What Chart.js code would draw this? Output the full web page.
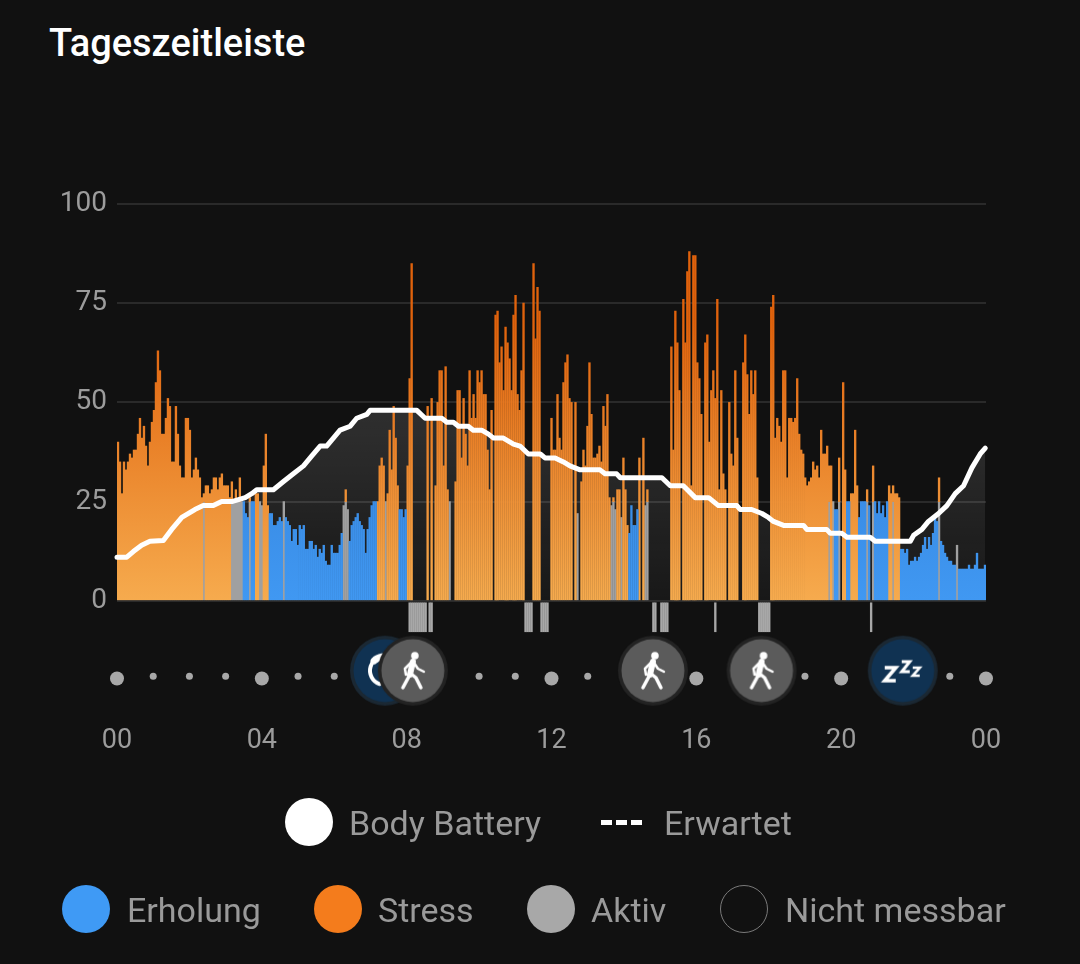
<!DOCTYPE html>
<html lang="de">
<head>
<meta charset="utf-8">
<title>Tageszeitleiste</title>
<script src="https://cdn.jsdelivr.net/npm/chart.js@4/dist/chart.umd.min.js"></script>
<style>
  html, body { margin: 0; background: #111111; font-family: Roboto, sans-serif; }
  #page { position: relative; width: 1080px; height: 964px; overflow: hidden; }
  #timeline { position: absolute; left: 0; top: 0; }
  h1 { position: absolute; left: 49px; top: 19px; margin: 0; color: #fff; font-size: 38px; font-weight: 500; line-height: 48px; }
  .lbl { position: absolute; color: #9a9a9a; font-size: 34px; line-height: 40px; white-space: nowrap; }
  .dot { position: absolute; width: 48px; height: 48px; border-radius: 50%; box-sizing: border-box; }
  .dash { position: absolute; top: 820px; width: 11px; height: 5px; background: #fff; }
</style>
</head>
<body>
<div id="page">
  <h1>Tageszeitleiste</h1>
  <canvas id="timeline" width="1080" height="964"></canvas>

  <div class="dot" style="left:285px;top:798px;background:#fff"></div>
  <div class="lbl" style="left:349px;top:803px">Body Battery</div>
  <div class="dash" style="left:601px"></div>
  <div class="dash" style="left:616px"></div>
  <div class="dash" style="left:631px"></div>
  <div class="lbl" style="left:664px;top:803px">Erwartet</div>

  <div class="dot" style="left:62px;top:885px;background:#3f9af5"></div>
  <div class="lbl" style="left:127px;top:890px">Erholung</div>
  <div class="dot" style="left:314px;top:885px;background:#f47c1c"></div>
  <div class="lbl" style="left:378px;top:890px">Stress</div>
  <div class="dot" style="left:527px;top:885px;background:#a8a8a8"></div>
  <div class="lbl" style="left:591px;top:890px">Aktiv</div>
  <div class="dot" style="left:720px;top:885px;border:1.5px solid #7a7a7a"></div>
  <div class="lbl" style="left:785px;top:890px">Nicht messbar</div>
</div>

<script>
// one bar per sample, ten per row
const barValues = [
  40,35,27,35,33,35,37,36,38,38,
  42,46,41,44,39,34,40,45,48,55,
  63,58,42,42,46,51,49,35,35,49,
  42,34,31,31,46,46,43,31,33,36,
  33,31,26,27,29,29,27,28,31,31,
  28,31,32,29,29,29,26,30,25,28,
  25,31,25,25,22,21,26,25,25,27,
  27,25,24,34,42,24,22,22,19,19,
  20,21,20,25,21,20,19,15,18,18,
  14,19,18,19,13,13,15,15,13,14,
  11,13,12,14,10,9,9,14,12,12,
  12,14,17,24,28,23,15,19,20,21,
  22,20,19,18,12,18,21,24,25,25,
  25,34,36,34,25,27,43,33,49,41,
  29,23,23,21,23,34,56,85,0,0,
  0,0,0,0,0,49,0,51,0,29,
  50,58,58,34,59,28,25,0,0,30,
  53,53,36,51,42,34,58,46,52,46,
  58,55,58,52,52,38,28,48,0,72,
  73,60,64,53,69,65,61,53,72,77,
  52,48,58,75,0,0,0,0,85,66,
  79,73,0,0,0,0,0,46,38,38,
  52,41,38,55,60,62,51,50,0,50,
  22,0,30,38,34,44,60,47,36,36,
  37,39,35,49,44,52,26,24,26,23,
  28,28,21,36,28,19,17,24,19,19,
  23,36,0,41,24,28,0,0,0,0,
  0,0,0,0,0,0,0,64,38,73,
  65,53,0,76,65,83,88,29,87,87,
  60,56,47,0,65,67,40,53,58,51,
  76,28,53,32,28,0,50,37,34,58,
  41,0,0,60,67,57,47,58,52,58,
  31,0,0,0,0,0,0,74,77,41,
  46,44,40,58,58,31,46,46,45,46,
  56,42,38,37,31,29,30,31,35,33,
  34,31,43,37,37,39,34,34,25,23,
  23,36,0,55,33,25,25,27,27,43,
  29,21,25,25,25,28,24,0,34,25,
  22,25,22,24,21,25,29,27,29,27,
  27,26,13,13,12,13,9,10,10,11,
  10,11,12,14,16,13,16,14,17,21,
  20,31,15,14,12,11,10,10,9,9,
  14,8,8,8,8,8,9,8,8,9,
  12,8,8,8,9
];

// S = Stress, E = Erholung, A = Aktiv, . = nothing measured
const barKinds = [
  "SSSSSSSSSS","SSSSSSSSSS","SSSSSSSSSS","SSSSSSSSSS","SSSASSSSSS",
  "SSSSSSSAAA","AAAEEEAEES","SAASSSEEEE","EEEAEEEEEE","EEEEEEEEEE",
  "EEEEEEEEEE","EEEAAAEEEE","EEEEEEEEEE","SSSSASSSSS","SEEEESSS..",
  ".....S.S.S","SSSSSSA..S","SSSSSSSSSS","SSSSSSSS.S","SSSSSSSSSS",
  "SSSS....SS","SS.....SSS","SSSSSSSS.S","A.SSSSSSSS","SSSSSSSAAA",
  "SSASSSEEEE","ES.SAA....",".......SSS","SS.SSSSSSS","SSS.SSSSSS",
  "SSSSS.SSSS","S..SSSSSSS","S......SSS","SSSSSSSSSS","SSSSSSSSSS",
  "SSSSSSASAE","EA.SSEESSS","SEEEEAE.AE","EEEEEESSAS","SSEEEEEEEE",
  "EEEEEEEEEE","EAEEEEEEEE","AEEEEEEEEE","EEEEE"
].join("");

// samples with the grey stripe under the bars
const stripeSamples = [146,147,148,149,150,151,152,153,154,156,157,204,205,206,207,212,213,214,215,268,269,272,273,274,275,299,321,322,323,324,325,326,377];

// Body Battery line: hour and value of each corner
const batteryHours = [0,0.27,0.45,0.68,0.91,1.28,1.51,1.79,2.15,2.38,2.66,2.89,3.17,3.54,3.72,3.86,4.32,4.59,4.87,5.15,5.38,5.61,5.79,6.16,6.44,6.62,6.9,6.99,8.28,8.51,8.97,9.11,9.29,9.43,9.7,9.84,10.07,10.26,10.4,10.67,10.95,11.13,11.36,11.69,11.82,12.1,12.33,12.51,12.79,13.34,13.48,13.8,13.9,15.05,15.28,15.64,15.97,16.34,16.61,17.12,17.21,17.53,17.81,17.99,18.13,18.41,18.96,19.05,19.6,19.7,20.02,20.16,20.8,20.94,21.91,22,22.23,22.41,22.69,22.92,23.15,23.38,23.61,23.84,23.98];
const batteryValues = [11,11,12.4,14,15,15.2,18,21,23,24,24,25,25,26,27,28,28,30,32,34,36.5,39,39,43,44,46,47,48,48,46,46,45,45,44,44,43,43,42,41,41,39.5,39,37,37,36,36,35,34,33,33,32,32,31,31,29,29,26,26,24,24,23,23,22,21,20,19,19,18,18,17,17,16,16,15,15,16.5,18,20,22,24,27,29,33.5,37,38.5];

const bigDotHours = [0,4,12,16,20,24];
const smallDotHours = [1,2,3,5,6,10,11,13,19,23];
const iconHours = [7.4,8.17,14.8,17.8,21.7];
const yTicks = [0,25,50,75,100];

const sampleHour = i => (i + 0.5) * 24 / barValues.length;

const restBars = [], stressBars = [], activeBars = [];
barValues.forEach((v, i) => {
  const x = sampleHour(i), kind = barKinds[i];
  if (kind === "E") restBars.push({ x, y: v });
  if (kind === "S") stressBars.push({ x, y: v });
  if (kind === "A") {
    // grey only goes up to 25, whatever is above is stress
    activeBars.push({ x, y: Math.min(v, 25) });
    if (v > 25) stressBars.push({ x, y: [25, v] });
  }
});

function makeIcon(draw) {
  const c = document.createElement("canvas");
  c.width = c.height = 72;
  const g = c.getContext("2d");
  g.translate(36, 36);
  g.lineCap = "round";
  g.lineJoin = "round";
  g.strokeStyle = "#fff";
  g.fillStyle = "#fff";
  draw(g);
  return c;
}

function disc(g, fill, ring) {
  g.fillStyle = ring;
  g.beginPath(); g.arc(0, 0, 35, 0, Math.PI * 2); g.fill();
  g.fillStyle = fill;
  g.beginPath(); g.arc(0, 0, 31.5, 0, Math.PI * 2); g.fill();
  g.fillStyle = "#fff";
}

function poly(g, pts, w) {
  g.lineWidth = w;
  g.beginPath();
  pts.forEach((p, i) => i ? g.lineTo(p[0], p[1]) : g.moveTo(p[0], p[1]));
  g.stroke();
}

const walkIcon = makeIcon(g => {
  disc(g, "#5b5b5b", "#232323");
  g.beginPath(); g.arc(2, -15, 3.8, 0, Math.PI * 2); g.fill();
  poly(g, [[0,-9],[-3,4]], 6);
  poly(g, [[-2,-8],[-8,-2],[-7,4]], 2.5);
  poly(g, [[1,-8],[5,-2],[11,1]], 2.5);
  poly(g, [[-3,4],[-10,17]], 3.5);
  poly(g, [[-2,3],[3,7],[8,17]], 3.5);
});

const sunIcon = makeIcon(g => {
  disc(g, "#103252", "#1b2833");
  g.lineWidth = 4;
  g.beginPath(); g.arc(-1, 0, 14, Math.PI * 0.6, Math.PI * 1.4); g.stroke();
  g.lineWidth = 7;
  g.beginPath(); g.arc(-1, 0, 14, Math.PI * 1.25, Math.PI * 1.45); g.stroke();
});

const sleepIcon = makeIcon(g => {
  disc(g, "#103252", "#1b2833");
  const zed = (x, y, w, h, lw) => poly(g, [[x, y], [x + w, y], [x, y + h], [x + w, y + h]], lw);
  g.lineCap = "butt";
  g.lineJoin = "miter";
  zed(-18, -3, 11, 13, 3.6);
  zed(-1, -9, 8, 10, 3);
  zed(10, -3, 7, 8, 2.6);
});

function vertical(ctx, top, bottom, colorTop, colorBottom, vTop, vBottom) {
  const { chart } = ctx;
  if (!chart.chartArea) return colorBottom;
  const s = chart.scales.y;
  const grad = chart.ctx.createLinearGradient(0, s.getPixelForValue(vTop), 0, s.getPixelForValue(vBottom));
  grad.addColorStop(0, colorTop);
  grad.addColorStop(1, colorBottom);
  return grad;
}

const barOpts = { type: "bar", barThickness: 1.7, grouped: false, order: 3, borderWidth: 0 };

new Chart(document.getElementById("timeline"), {
  type: "bar",
  data: {
    datasets: [
      { ...barOpts, label: "Erholung", data: restBars,
        backgroundColor: ctx => vertical(ctx, 0, 0, "#3a8de6", "#4098f2", 25, 0) },
      { ...barOpts, label: "Stress", data: stressBars,
        backgroundColor: ctx => vertical(ctx, 0, 0, "#e0620c", "#f6ab4e", 70, 0) },
      { ...barOpts, label: "Aktiv", data: activeBars, backgroundColor: "#a0a0a0" },
      { ...barOpts, label: "Nicht messbar", backgroundColor: "#a8a8a8",
        data: stripeSamples.map(i => ({ x: sampleHour(i), y: [-7.8, -0.5] })) },
      { type: "line", label: "Body Battery", order: 1, clip: false,
        data: batteryHours.map((h, i) => ({ x: h, y: batteryValues[i] })),
        borderColor: "#fff", borderWidth: 5, borderJoinStyle: "round", borderCapStyle: "round",
        pointRadius: 0, tension: 0, fill: "origin",
        backgroundColor: ctx => vertical(ctx, 0, 0, "rgba(255,255,255,0.13)", "rgba(255,255,255,0.03)", 48, 0) },
      { type: "line", label: "Stunden", order: 2, clip: false, showLine: false,
        data: bigDotHours.map(h => ({ x: h, y: -19.6 })),
        pointRadius: 7, pointBackgroundColor: "#a8a8a8", pointBorderWidth: 0 },
      { type: "line", label: "Stunden klein", order: 2, clip: false, showLine: false,
        data: smallDotHours.map(h => ({ x: h, y: -19 })),
        pointRadius: 3.5, pointBackgroundColor: "#a8a8a8", pointBorderWidth: 0 },
      { type: "line", label: "Ereignisse", order: 0, clip: false, showLine: false,
        data: iconHours.map(h => ({ x: h, y: -17.6 })),
        pointStyle: [sunIcon, walkIcon, walkIcon, walkIcon, sleepIcon] }
    ]
  },
  options: {
    responsive: false,
    animation: false,
    layout: { padding: { top: 204, right: 94, left: 0, bottom: 0 } },
    plugins: {
      legend: { display: false },
      tooltip: { enabled: false },
      filler: { drawTime: "beforeDatasetsDraw" }
    },
    scales: {
      x: {
        type: "linear", min: 0, max: 24, offset: false,
        afterFit: s => { s.height = 264; },
        grid: { display: false },
        border: { display: false },
        ticks: {
          stepSize: 4, padding: 17, autoSkip: false, maxRotation: 0,
          color: "#9c9c9c", font: { family: "Roboto", size: 27 },
          callback: v => String(v % 24).padStart(2, "0")
        }
      },
      y: {
        min: -25, max: 100,
        afterFit: s => { s.width = 117; },
        afterBuildTicks: s => { s.ticks = yTicks.map(value => ({ value })); },
        grid: { color: "#2a2a2a", lineWidth: 2, drawTicks: false },
        border: { display: false },
        ticks: { padding: 10, color: "#9c9c9c", font: { family: "Roboto", size: 28 } }
      }
    }
  }
});
</script>
</body>
</html>
